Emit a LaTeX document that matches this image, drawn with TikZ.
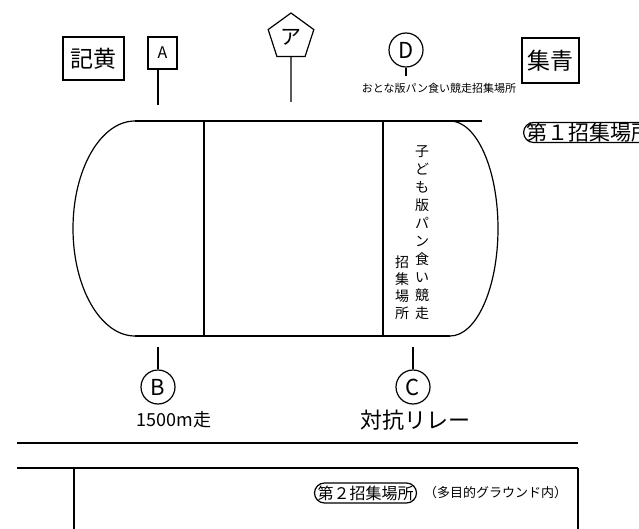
\documentclass[tikz,border=0pt]{standalone}
\usepackage{fontspec}
\setmainfont{Noto Sans CJK JP}
\usepackage{tikz}
\usetikzlibrary{shapes.geometric, positioning, calc}

\newcommand{\fs}[1]{\fontsize{#1}{#1}\selectfont}

\tikzset{
  tentbox/.style={draw, line width=1.6pt, inner sep=0pt, minimum width=#1},
  markbox/.style={draw, line width=1.2pt, inner sep=0pt, minimum width=29pt, minimum height=32pt, font=\fs{16}},
  markcirc/.style={draw, circle, line width=1.2pt, inner sep=0pt, minimum size=34pt, font=\fs{22}},
  markpent/.style={draw, regular polygon, regular polygon sides=5, line width=1.2pt, inner sep=0pt, minimum size=48pt, font=\fs{21}},
  callbox/.style={draw, rounded corners=#1, line width=1.2pt, inner xsep=3pt, inner ysep=0pt, minimum height=2*#1}
}

\begin{document}
\begin{tikzpicture}[x=1pt, y=-1pt, line width=1.2pt]
\useasboundingbox (0,0) rectangle (639,529);

% track
\draw (135,121) -- (482,121);
\draw (135,336) arc[start angle=270, end angle=90, x radius=62pt, y radius=107.5pt];
\draw (450,336) arc[start angle=-90, end angle=90, x radius=48pt, y radius=107.5pt];
\draw (135,336) -- (450,336);
\draw (204,121) -- (204,336);
\draw (383,121) -- (383,336);

\node[align=center, font=\fontsize{14}{18}\selectfont, anchor=south] (kodomo) at (422,324)
  {子\\ど\\も\\版\\パ\\ン\\食\\い\\競\\走};
\node[align=center, font=\fontsize{14}{17}\selectfont, anchor=south] (shushu) at (402,324)
  {招\\集\\場\\所};

% tents
\node[tentbox=61pt, minimum height=43pt, font=\fs{23}] (kiko) at (93.5,58.5) {記黄};
\node[tentbox=57pt, minimum height=45pt, font=\fs{23}] (shusei) at (550.5,60.5) {集青};

% markers above
\coordinate (tA) at (158,105);
\coordinate (tK) at (291,102);
\coordinate (tD) at (406,76);
\node[markbox] (A) at (162.5,53) {A};
\node[markpent] (K) at (291,37) {ア};
\node[markcirc] (D) at (406,50) {D};
\draw (tA |- A.south) -- (tA);
\draw (K.south) -- (tK);
\draw (D.south) -- (tD);
\node[font=\fs{11}] (otona) at (439,88) {おとな版パン食い競走招集場所};

% markers below
\coordinate (tB) at (158,347);
\coordinate (tC) at (413,347);
\node[markcirc] (B) at (158,387) {B};
\node[markcirc] (C) at (413,387) {C};
\draw (tB) -- (B.north);
\draw (tC) -- (C.north);
\node[font=\fs{18}] (m1500) at (174,420) {1500m走};
\node[font=\fs{22}] (relay) at (415,420) {対抗リレー};

% call areas
\node[callbox=10pt, font=\fs{21}, anchor=west] (call1) at (523,132.5) {第１招集場所};

\draw (17,443) -- (578,443);
\draw (17,468) -- (578,468);
\draw (74,468) -- (74,529);
\draw (578,468) -- (578,529);
\node[callbox=10pt, font=\fs{16}] (call2) at (365.5,493) {第２招集場所};
\node[font=\fs{13}, right=3pt of call2] (tamokuteki) {（多目的グラウンド内）};

\end{tikzpicture}
\end{document}
